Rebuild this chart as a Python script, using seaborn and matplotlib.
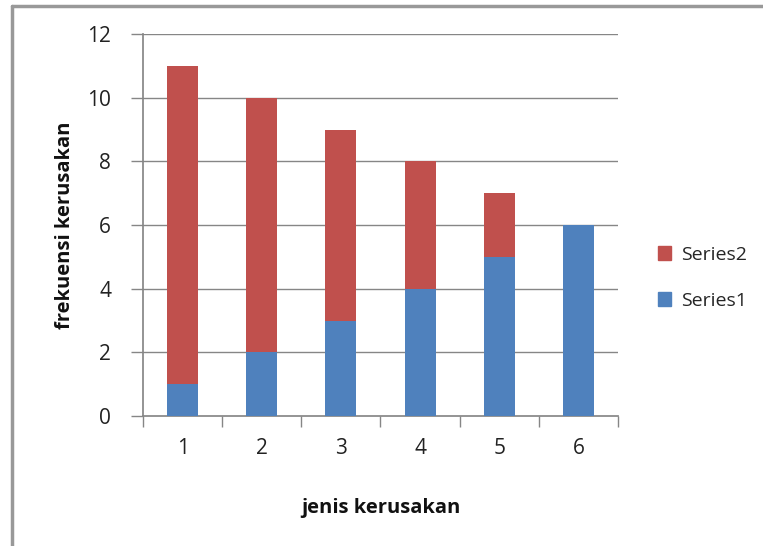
import matplotlib
matplotlib.use("Agg")
import matplotlib.pyplot as plt
import seaborn as sns
import pandas as pd
import numpy as np
from matplotlib.patches import Patch

categories = ["1", "2", "3", "4", "5", "6"]
series1 = [1, 2, 3, 4, 5, 6]
series2 = [10, 8, 6, 4, 2, 0]
y_ticks = [0, 2, 4, 6, 8, 10, 12]

sns.set_theme(style="white")
plt.rcParams['font.family'] = ['Open Sans', 'DejaVu Sans']

df = pd.DataFrame({"cat": categories, "s1": series1, "s2": series2})
df["total"] = df["s1"] + df["s2"]

fig = plt.figure(figsize=(7.63, 5.46), dpi=100)
ax = fig.add_axes([143/763, 1-416/546, (618-143)/763, (416-34)/546])

gray = "#868686"
for y in y_ticks[1:]:
    ax.axhline(y, color=gray, lw=1.0, zorder=0)

sns.barplot(data=df, x="cat", y="total", color="#C0504D", saturation=1, width=0.39,
            linewidth=0, ax=ax, zorder=2)
sns.barplot(data=df, x="cat", y="s1", color="#4F81BD", saturation=1, width=0.39,
            linewidth=0, ax=ax, zorder=3)

ax.set_ylim(0, 12)
ax.set_xlim(-0.5, 5.5)
ax.set_yticks(y_ticks)
ax.set_yticklabels([str(v) for v in y_ticks], fontsize=15, color="#222222")
ax.set_xticks(np.arange(-0.5, 6.0, 1.0), minor=True)
ax.set_xticks(range(6))
ax.set_xticklabels(categories, fontsize=15, color="#222222")
ax.tick_params(axis="x", which="major", length=0, pad=16)
ax.tick_params(axis="x", which="minor", length=8, color=gray, width=1, direction="out", bottom=True)
ax.tick_params(axis="y", length=9, color=gray, width=1, direction="out", left=True, pad=14)

for s in ["top", "right"]:
    ax.spines[s].set_visible(False)
ax.spines["left"].set_color(gray)
ax.spines["bottom"].set_color(gray)

ax.set_xlabel("jenis kerusakan", fontsize=14.5, fontweight="bold", labelpad=28, color="#111111")
ax.set_ylabel("frekuensi kerusakan", fontsize=14.5, fontweight="bold", labelpad=9, color="#111111")

handles = [Patch(color="#C0504D", label="Series2"), Patch(color="#4F81BD", label="Series1")]
fig.legend(handles=handles, loc="center left", bbox_to_anchor=(640/763, 1-278/546),
           frameon=False, fontsize=14, handlelength=0.7, handleheight=0.7,
           labelspacing=1.45, handletextpad=0.5)

# outer frame (left/top)
fig.add_artist(plt.Line2D([12/763, 12/763], [0, 1-6/546], color="#999999", lw=2.5))
fig.add_artist(plt.Line2D([12/763, 1], [1-6/546, 1-6/546], color="#999999", lw=2.5))

fig.savefig("out.png", dpi=100)
